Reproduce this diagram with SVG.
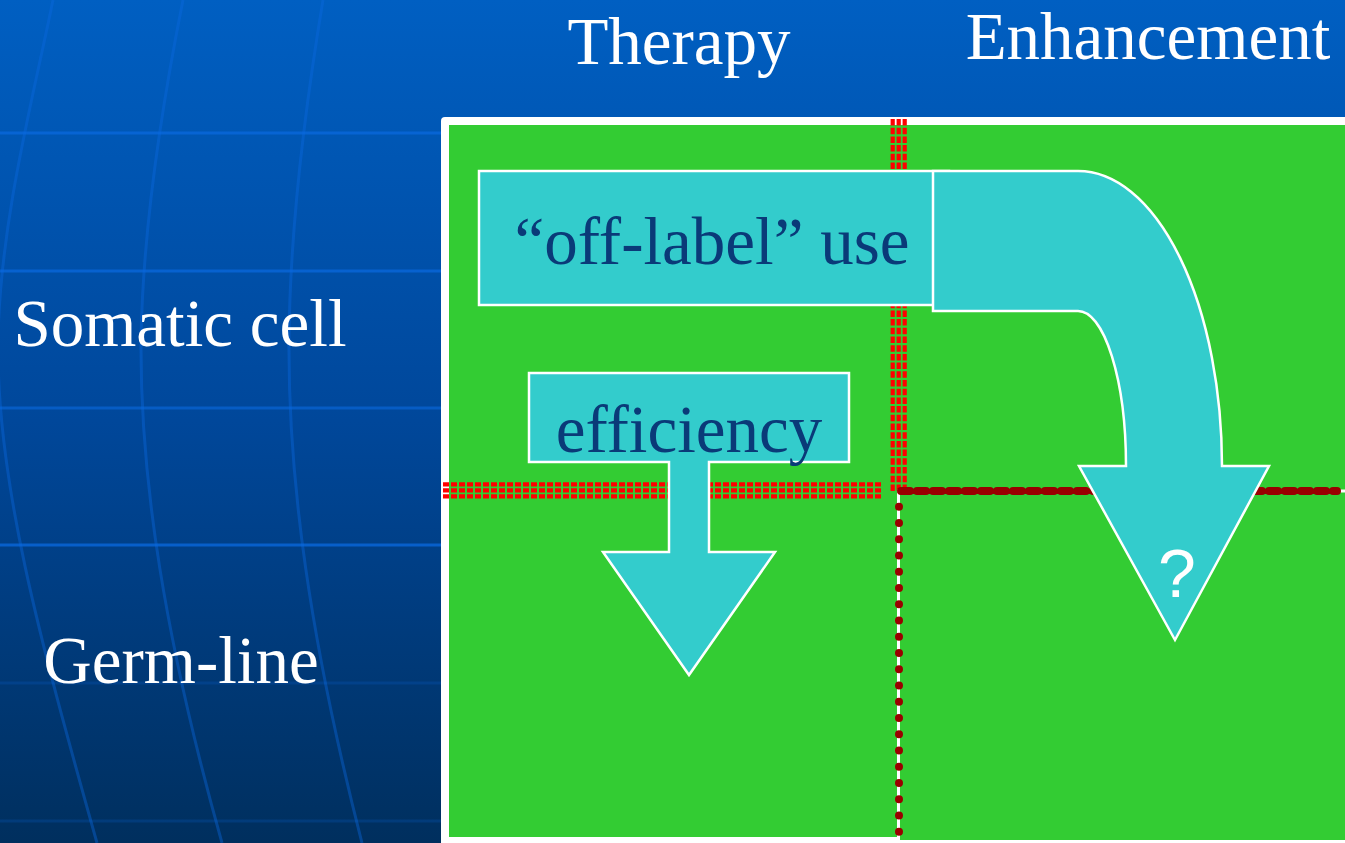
<svg xmlns="http://www.w3.org/2000/svg" width="1345" height="843" viewBox="0 0 1345 843">
<defs>
<linearGradient id="bg" x1="0" y1="0" x2="0" y2="1">
<stop offset="0" stop-color="#005FC2"/>
<stop offset="0.5" stop-color="#00479A"/>
<stop offset="1" stop-color="#002F5E"/>
</linearGradient>
</defs>
<style>
.lbl{font-family:"Liberation Serif","Times New Roman",serif;font-size:67px;fill:#FFFFFF}
.in{font-family:"Liberation Serif","Times New Roman",serif;font-size:67px;fill:#0A3A78}
.hl{stroke:#0A6AE0;stroke-width:3;fill:none}
.vl{stroke:#0A6AE0;stroke-width:3;fill:none;opacity:0.4}
.shape{fill:#33CCCC;stroke:#FFFFFF;stroke-width:2.5}
.red{stroke:#FF0000;stroke-width:4.2;fill:none}
</style>
<rect x="0" y="0" width="1345" height="843" fill="url(#bg)"/>
<g id="grid">
<line class="hl" x1="0" y1="133" x2="1345" y2="133" opacity="0.7"/>
<line class="hl" x1="0" y1="271" x2="1345" y2="271" opacity="0.7"/>
<line class="hl" x1="0" y1="408" x2="1345" y2="408" opacity="0.6"/>
<line class="hl" x1="0" y1="545" x2="1345" y2="545" opacity="0.75"/>
<line class="hl" x1="0" y1="683" x2="1345" y2="683" opacity="0.2"/>
<line class="hl" x1="0" y1="821" x2="1345" y2="821" opacity="0.2"/>
<path class="vl" d="M53,0 C35,90 0,220 -2,340 C-4,480 40,640 97,843"/>
<path class="vl" d="M183,0 C165,90 143,220 141,340 C140,480 165,640 222,843"/>
<path class="vl" d="M323,0 C308,90 290,220 289,340 C288,480 310,640 362,843"/>
</g>
<g id="col-therapy"><text class="lbl" x="679" y="64" text-anchor="middle">Therapy</text></g>
<g id="col-enhancement"><text class="lbl" x="1148" y="59" text-anchor="middle">Enhancement</text></g>
<g id="row-somatic"><text class="lbl" x="180" y="346" text-anchor="middle">Somatic cell</text></g>
<g id="row-germline"><text class="lbl" x="181" y="683" text-anchor="middle">Germ-line</text></g>
<g id="panel">
<rect x="441" y="117" width="910" height="730" rx="4" fill="#FFFFFF"/>
<rect x="449" y="125" width="896" height="712" fill="#33CC33"/>
<rect x="900" y="125" width="445" height="715" fill="#33CC33"/>
</g>
<g id="connectors">
<line class="red" x1="892.7" y1="119" x2="892.7" y2="491" stroke-dasharray="6.5 2.2"/>
<line class="red" x1="898.7" y1="119" x2="898.7" y2="491" stroke-dasharray="6.5 2.2"/>
<line class="red" x1="904.7" y1="119" x2="904.7" y2="491" stroke-dasharray="6.5 2.2"/>
<line class="red" x1="443" y1="484.3" x2="883" y2="484.3" stroke-dasharray="6 2"/>
<line class="red" x1="443" y1="490.3" x2="883" y2="490.3" stroke-dasharray="6 2"/>
<line class="red" x1="443" y1="496.3" x2="883" y2="496.3" stroke-dasharray="6 2"/>
<line x1="897" y1="491" x2="1345" y2="491" stroke="#FFFFFF" stroke-width="3"/>
<line x1="898.5" y1="493" x2="898.5" y2="843" stroke="#FFFFFF" stroke-width="3"/>
<line x1="901" y1="491" x2="1337" y2="491" stroke="#990000" stroke-width="8" stroke-dasharray="9 7" stroke-linecap="round"/>
<line x1="899" y1="506.7" x2="899" y2="833" stroke="#990000" stroke-width="8" stroke-dasharray="0 16.25" stroke-linecap="round"/>
</g>
<g id="off-label">
<rect class="shape" x="479" y="171" width="470" height="134"/>
<path class="shape" d="M933,171 H1078 A144,295 0 0 1 1222,466 H1269 L1175,640 L1079,466 H1126 A48,155 0 0 0 1078,311 H933 Z"/>
<text class="in" x="712" y="264" text-anchor="middle">“off-label” use</text>
<text x="1177" y="597" text-anchor="middle" font-family="Liberation Sans, Arial, sans-serif" font-size="68" fill="#FFFFFF">?</text>
</g>
<g id="efficiency">
<path class="shape" d="M529,373 H849 V462 H709 V552 H775 L689,675 L603,552 H669 V462 H529 Z"/>
<text class="in" x="689" y="452" text-anchor="middle">efficiency</text>
</g>
</svg>
